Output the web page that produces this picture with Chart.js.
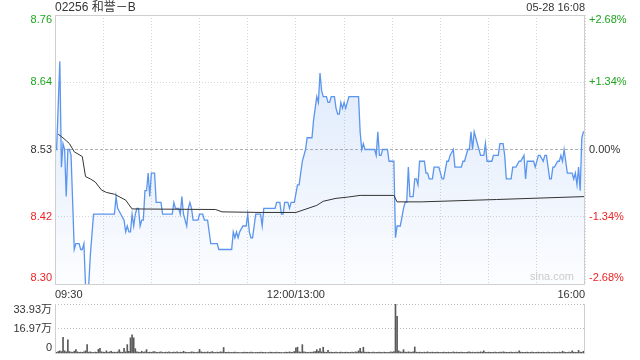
<!DOCTYPE html>
<html>
<head>
<meta charset="utf-8">
<script src="https://cdn.jsdelivr.net/npm/chart.js@4"></script>
<style>
  html, body { margin: 0; padding: 0; background: #fff; }
  #wrap { position: relative; width: 640px; height: 360px; }
  #main { position: absolute; left: 0; top: 0; }
  #vol { position: absolute; left: 0; top: 300px; }
</style>
</head>
<body>
<div id="wrap">
  <canvas id="main" width="640" height="300"></canvas>
  <canvas id="vol" width="640" height="60"></canvas>
</div>
<script>
// 09:30-12:00 + 13:00-16:00 = 330 minutes
const title = '02256 和誉－B';
const stamp = '05-28 16:08';
const prevClose = 8.53;
const pctRange = 2.68;
const timeLabels = { 0: '09:30', 150: '12:00/13:00', 330: '16:00' };

const priceMin = [0,1,3,4,5,6,7,8,9,10,12,13,15,16,17,18,19,21,22,24,37,38,39,41,43,44,45,46,47,48,
  49,50,51,52,53,54,55,56,57,58,59,60,62,63,66,67,73,74,75,77,78,79,80,81,82,83,84,85,86,89,
  90,92,93,95,97,101,102,110,111,112,113,114,115,117,119,120,121,122,123,124,125,128,129,130,137,138,140,141,142,143,
  145,146,147,149,151,152,154,156,157,160,161,163,164,165,166,167,169,170,171,172,174,175,176,177,178,179,180,181,182,183,
  189,190,191,192,193,199,200,201,202,203,204,207,208,211,212,213,215,217,218,219,220,221,223,224,225,226,227,230,231,232,
  233,235,236,239,241,242,244,245,246,248,249,253,254,255,257,258,259,260,261,262,264,265,267,268,269,272,273,276,277,279,
  280,281,284,285,287,289,290,292,293,294,298,299,301,302,304,305,306,308,309,310,311,313,314,315,316,317,318,319,322,323,
  324,325,326,327,328,329,330];
const priceVal = [8.53,8.53,8.68,8.50,8.54,8.53,8.45,8.53,8.53,8.52,8.36,8.37,8.37,8.36,8.36,8.37,8.30,8.30,8.35,8.42,8.42,8.45,8.43,8.42,8.41,8.39,8.40,8.39,8.39,8.42,
  8.40,8.42,8.43,8.43,8.40,8.41,8.41,8.46,8.46,8.49,8.45,8.49,8.49,8.44,8.44,8.42,8.42,8.44,8.43,8.43,8.42,8.45,8.42,8.41,8.40,8.43,8.44,8.43,8.41,8.41,
  8.42,8.42,8.41,8.41,8.37,8.37,8.36,8.36,8.39,8.38,8.39,8.38,8.39,8.40,8.40,8.42,8.39,8.38,8.38,8.40,8.42,8.42,8.40,8.43,8.43,8.44,8.44,8.42,8.42,8.44,
  8.44,8.43,8.44,8.44,8.47,8.47,8.51,8.53,8.55,8.55,8.58,8.62,8.61,8.66,8.63,8.62,8.62,8.61,8.61,8.62,8.62,8.60,8.59,8.59,8.61,8.60,8.61,8.60,8.61,8.62,
  8.62,8.56,8.53,8.54,8.53,8.53,8.52,8.56,8.52,8.52,8.53,8.53,8.51,8.51,8.38,8.40,8.40,8.43,8.44,8.44,8.50,8.45,8.45,8.48,8.48,8.47,8.51,8.51,8.49,8.49,
  8.48,8.48,8.50,8.50,8.48,8.48,8.51,8.51,8.52,8.53,8.50,8.50,8.51,8.51,8.53,8.53,8.56,8.53,8.56,8.55,8.53,8.52,8.52,8.54,8.51,8.51,8.52,8.52,8.54,8.54,
  8.52,8.48,8.48,8.50,8.50,8.51,8.51,8.52,8.48,8.51,8.51,8.50,8.52,8.52,8.51,8.52,8.52,8.48,8.48,8.50,8.50,8.51,8.51,8.52,8.51,8.53,8.51,8.49,8.49,8.48,
  8.49,8.47,8.50,8.46,8.55,8.56,8.56];

const avgMin = [2,4,7,9,12,17,19,22,25,29,32,37,44,48,100,104,129,150,163,167,175,182,190,211,213,228,275,330];
const avgVal = [8.556,8.552,8.545,8.54,8.526,8.518,8.484,8.48,8.475,8.461,8.457,8.454,8.444,8.429,8.428,8.424,8.423,8.423,8.435,8.442,8.447,8.449,8.452,8.452,8.441,8.441,8.445,8.45];

// volume per minute, in 万 shares
const volume = [
  2.0,0.5,1.0,1.5,1.0,10.9,1.5,0.8,9.2,1.0,0.6,0.5,1.2,2.3,0.8,0.5,0.6,0.5,0.8,1.5,5.8,0.6,0.8,0.5,0.4,0.6,0.5,2.5,3.2,0.8,
  0.6,0.5,1.5,0.4,0.8,1.2,0.5,0.6,0.5,0.8,2.3,0.6,0.5,3.2,0.8,5.8,1.2,10.5,12.6,10.5,3.0,0.8,0.6,0.5,1.2,0.6,0.8,2.3,0.5,0.6,
  0.5,0.8,1.0,0.5,0.4,0.6,0.8,0.5,0.4,0.6,0.5,0.8,0.4,0.5,0.6,0.5,0.8,0.4,0.6,0.5,1.2,0.6,0.5,0.4,0.5,0.8,0.6,0.5,0.4,0.6,
  2.5,0.8,0.5,0.6,0.4,0.8,0.5,0.6,1.0,0.5,0.4,0.6,0.5,0.8,0.6,3.8,0.5,0.4,0.6,0.5,0.4,0.5,0.6,0.4,0.5,0.3,0.4,0.5,0.6,0.4,
  0.5,0.4,0.6,0.5,0.3,0.4,0.5,0.4,0.6,0.5,0.4,0.5,0.3,0.4,0.6,0.5,0.4,0.5,0.6,0.4,0.5,0.4,0.3,0.5,0.6,0.4,0.8,0.5,0.6,1.0,
  3.5,4.0,0.8,0.6,5.8,0.8,0.6,0.5,0.4,0.6,0.5,0.8,1.0,2.3,1.2,3.0,0.8,4.0,0.6,0.5,1.8,0.5,0.6,0.4,0.5,0.6,0.4,0.5,0.6,0.5,
  0.4,0.6,0.5,0.4,0.5,0.6,0.4,0.8,0.6,1.5,3.2,0.8,4.0,0.6,0.5,0.6,0.5,0.4,0.6,0.5,0.4,0.5,0.6,0.5,0.4,0.6,0.5,0.4,0.5,0.8,
  0.6,1.0,33.93,25.4,1.5,0.8,0.6,2.3,0.6,0.5,0.8,0.6,0.5,0.8,4.2,0.6,0.5,0.6,0.5,0.4,0.6,0.5,0.8,0.4,0.5,0.6,0.4,0.5,0.6,0.5,
  0.4,0.5,0.6,0.5,0.4,0.6,0.5,0.4,0.8,0.5,0.6,0.4,0.5,0.6,0.5,0.4,0.5,0.6,0.8,0.5,0.6,0.4,0.5,0.6,0.5,0.8,0.6,1.5,0.5,0.4,
  0.6,0.5,0.4,0.5,0.6,0.5,0.4,0.6,0.5,0.8,0.6,0.5,0.4,0.5,0.6,0.5,0.4,0.6,0.5,1.5,0.6,0.5,0.4,0.5,0.6,0.4,0.5,0.6,0.5,0.4,
  0.5,0.6,0.4,0.5,0.6,0.5,0.4,0.6,0.5,0.4,0.5,0.6,0.5,0.4,0.6,0.5,1.2,0.6,0.5,0.4,0.6,0.5,1.5,0.6,0.5,0.4,1.8,0.6,0.5,1.2,1.6
];
const volMax = 33.93;
const volTicks = [33.93, 16.97, 0];
const volTickLabels = ['33.93万', '16.97万', '0'];

const FONT = '"Liberation Sans", Arial, "Noto Sans CJK SC", sans-serif';
const GREEN = '#1ea51e', RED = '#ee2222', TXT = '#333';

const yMin = prevClose * (1 - pctRange / 100);
const yMax = prevClose * (1 + pctRange / 100);
const yTicks = [yMin, (yMin + prevClose) / 2, prevClose, (yMax + prevClose) / 2, yMax];

function pts(xs, ys) {
  return xs.map((x, i) => ({ x: x, y: ys[i] }));
}
function fixW(w) { return s => { s.width = w; }; }

const frame = {
  id: 'frame',
  afterDraw(chart) {
    const a = chart.chartArea, c = chart.ctx;
    c.save();
    c.strokeStyle = '#cfcfcf';
    c.lineWidth = 1;
    c.strokeRect(Math.round(a.left) + 0.5, Math.round(a.top) + 0.5, a.right - a.left - 1, a.bottom - a.top);
    c.restore();
  }
};

const mainLabels = {
  id: 'mainLabels',
  afterDraw(chart) {
    const c = chart.ctx, a = chart.chartArea;
    const y = chart.scales.y, x = chart.scales.x;
    c.save();
    c.font = '11px ' + FONT;
    c.textBaseline = 'middle';
    yTicks.forEach((v, i) => {
      let py = y.getPixelForValue(v);
      if (i === 0) py -= 6;
      if (i === yTicks.length - 1) py += 5;
      const col = Math.abs(v - prevClose) < 1e-6 ? TXT : (v > prevClose ? GREEN : RED);
      c.fillStyle = col;
      c.textAlign = 'right';
      c.fillText(v.toFixed(2), a.left - 3, py);
      const p = (v - prevClose) / prevClose * 100;
      c.textAlign = 'left';
      c.fillText((p > 0.001 ? '+' : '') + p.toFixed(2) + '%', a.right + 4, py);
    });
    c.fillStyle = TXT;
    Object.keys(timeLabels).forEach(k => {
      const m = +k;
      c.textAlign = m === 0 ? 'left' : (m === 330 ? 'right' : 'center');
      c.fillText(timeLabels[k], x.getPixelForValue(m), a.bottom + 11);
    });
    c.font = '12px ' + FONT;
    c.textAlign = 'left';
    c.fillText(title, a.left, 8);
    c.font = '11px ' + FONT;
    c.textAlign = 'right';
    c.fillText(stamp, a.right, 8);
    c.fillStyle = '#cccccc';
    c.fillText('sina.com', a.right - 11, a.bottom - 7);
    c.restore();
  }
};

const mainChart = new Chart(document.getElementById('main'), {
  type: 'line',
  data: {
    datasets: [
      {
        data: pts(avgMin, avgVal),
        borderColor: '#333',
        borderWidth: 1,
        pointRadius: 0,
        fill: false,
        tension: 0
      },
      {
        data: pts(priceMin, priceVal),
        borderColor: '#5b95ee',
        borderWidth: 1.3,
        pointRadius: 0,
        tension: 0,
        fill: 'start',
        backgroundColor: function (ctx) {
          const a = ctx.chart.chartArea;
          if (!a) return 'rgba(91,149,238,0.1)';
          const g = ctx.chart.ctx.createLinearGradient(0, a.top, 0, a.bottom);
          g.addColorStop(0, 'rgba(91,149,238,0.24)');
          g.addColorStop(1, 'rgba(91,149,238,0.02)');
          return g;
        }
      }
    ]
  },
  options: {
    responsive: false,
    animation: false,
    events: [],
    layout: { padding: { top: 15, bottom: 16, left: 0, right: 0 } },
    plugins: { legend: { display: false }, tooltip: { enabled: false } },
    scales: {
      x: {
        type: 'linear', min: 0, max: 330,
        ticks: { display: false, stepSize: 30 },
        grid: { color: '#d6d6d6', drawTicks: false },
        border: { display: false, dash: [1, 2] },
        afterFit: s => { s.height = 0; }
      },
      y: {
        position: 'left', min: yMin, max: yMax,
        afterBuildTicks: s => { s.ticks = yTicks.map(v => ({ value: v })); },
        ticks: { display: false },
        grid: {
          drawTicks: false,
          color: ctx => (ctx.tick && Math.abs(ctx.tick.value - prevClose) < 1e-6) ? '#b0b0b0' : '#d6d6d6'
        },
        border: {
          display: false,
          dash: ctx => (ctx.tick && Math.abs(ctx.tick.value - prevClose) < 1e-6) ? [3, 2] : [1, 2]
        },
        afterFit: fixW(55)
      },
      y2: {
        position: 'right', min: -pctRange, max: pctRange,
        ticks: { display: false },
        grid: { display: false, drawTicks: false },
        border: { display: false },
        afterFit: fixW(55)
      }
    }
  },
  plugins: [frame, mainLabels]
});

const volLabels = {
  id: 'volLabels',
  afterDraw(chart) {
    const c = chart.ctx, a = chart.chartArea, y = chart.scales.y;
    c.save();
    c.font = '11px ' + FONT;
    c.fillStyle = TXT;
    c.textAlign = 'right';
    c.textBaseline = 'middle';
    volTicks.forEach((v, i) => {
      let py = y.getPixelForValue(v);
      if (i === 0) py += 6;
      if (i === volTicks.length - 1) py -= 5;
      c.fillText(volTickLabels[i], a.left - 3, py);
    });
    c.strokeStyle = '#cfcfcf';
    c.lineWidth = 1;
    c.beginPath();
    c.moveTo(Math.round(a.left) + 0.5, a.top);
    c.lineTo(Math.round(a.left) + 0.5, a.bottom + 0.5);
    c.lineTo(Math.round(a.right) - 0.5, a.bottom + 0.5);
    c.lineTo(Math.round(a.right) - 0.5, a.top);
    c.stroke();
    c.restore();
  }
};

const volChart = new Chart(document.getElementById('vol'), {
  type: 'bar',
  data: {
    datasets: [{
      data: volume.map((v, i) => ({ x: i, y: v })),
      backgroundColor: '#5a5a5a',
      barThickness: 1
    }]
  },
  options: {
    responsive: false,
    animation: false,
    events: [],
    layout: { padding: { top: 4, bottom: 7, left: 0, right: 0 } },
    plugins: { legend: { display: false }, tooltip: { enabled: false } },
    scales: {
      x: {
        type: 'linear', min: 0, max: 330, offset: false,
        ticks: { display: false },
        grid: { display: false, drawTicks: false },
        border: { display: false },
        afterFit: s => { s.height = 0; }
      },
      y: {
        position: 'left', min: 0, max: volMax,
        afterBuildTicks: s => { s.ticks = [{ value: volTicks[1] }, { value: volTicks[0] }]; },
        ticks: { display: false },
        grid: { color: '#bdbdbd', drawTicks: false },
        border: { display: false, dash: [1, 2] },
        afterFit: fixW(55)
      },
      yr: {
        position: 'right', min: 0, max: volMax,
        ticks: { display: false },
        grid: { display: false, drawTicks: false },
        border: { display: false },
        afterFit: fixW(55)
      }
    }
  },
  plugins: [volLabels]
});
</script>
</body>
</html>
